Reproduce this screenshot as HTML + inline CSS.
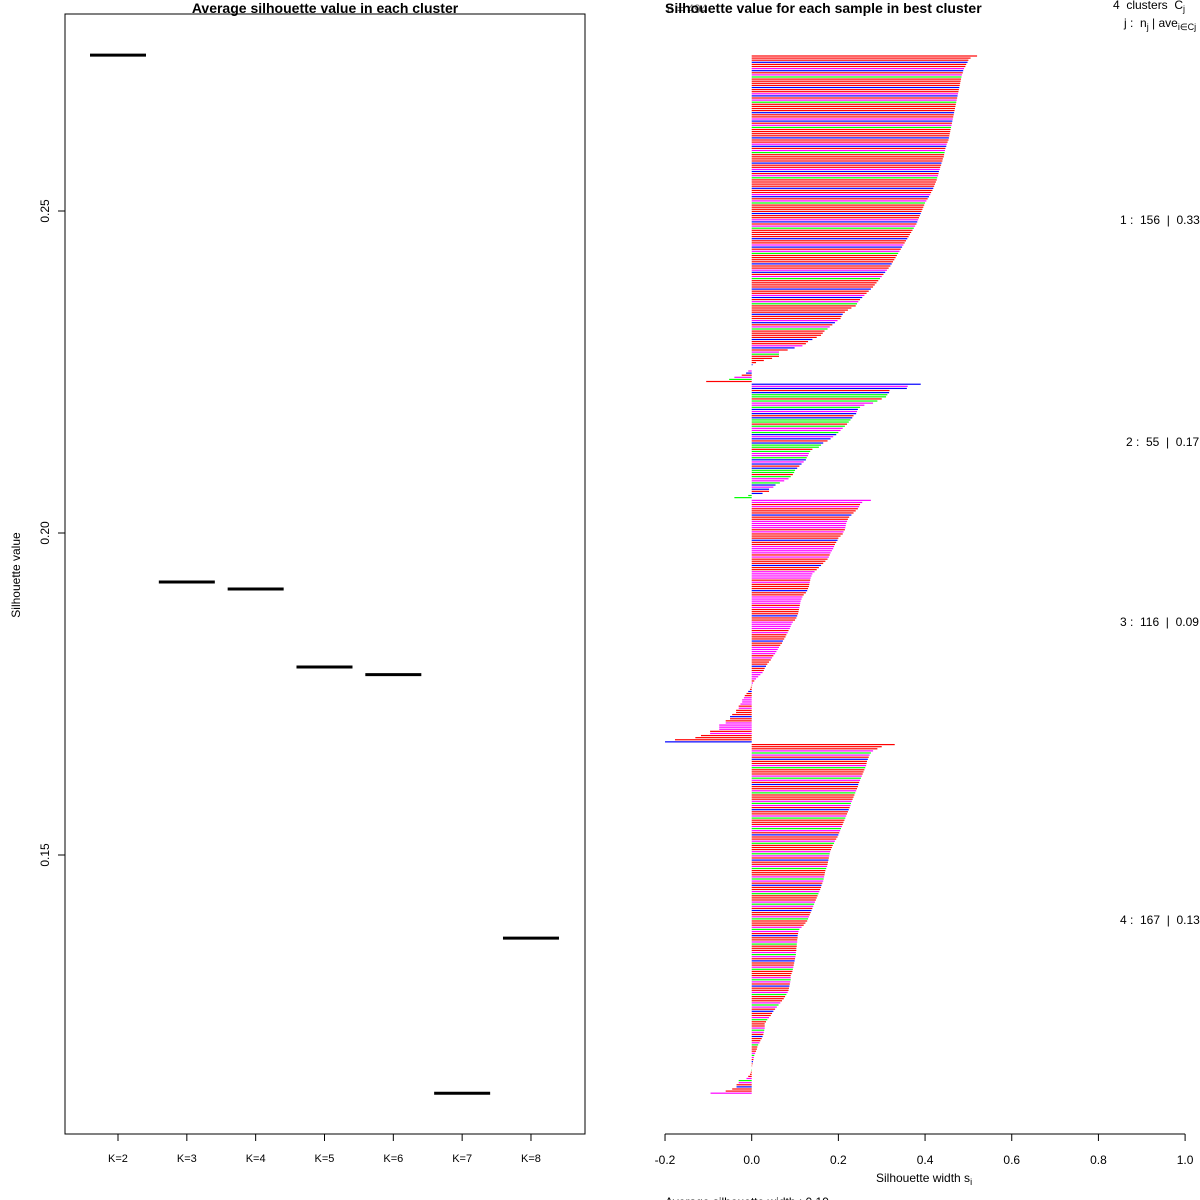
<!DOCTYPE html>
<html><head><meta charset="utf-8"><title>Silhouette</title>
<style>
html,body{margin:0;padding:0;background:#fff;}
svg{display:block;font-family:"Liberation Sans",Arial,sans-serif;}
.pre{white-space:pre;}
</style></head>
<body>
<svg id="c" width="1200" height="1200" viewBox="0 0 1200 1200">
  <g id="left">
    <text x="325" y="13" text-anchor="middle" font-size="14" font-weight="bold">Average silhouette value in each cluster</text>
    <rect x="65" y="14" width="520" height="1120" fill="none" stroke="#000" stroke-width="1"/>
    <text transform="translate(20,575) rotate(-90)" text-anchor="middle" font-size="12">Silhouette value</text>
  </g>
  <g id="right">
    <text x="665" y="13" font-size="14" font-weight="bold">Silhouette value for each sample in best cluster</text>
    <text x="667" y="13" font-size="12" fill="#000" opacity="0.6">n = 494</text>
    <text x="1113" y="9" font-size="12" class="pre">4  clusters  C<tspan font-size="9" dy="3">j</tspan></text>
    <text x="1124" y="27" font-size="12" class="pre">j :  n<tspan font-size="9" dy="3">j</tspan><tspan dy="-3"> | ave</tspan><tspan font-size="9" dy="3">i∈Cj</tspan><tspan dy="-3">  s</tspan><tspan font-size="9" dy="3">i</tspan></text>
    <text x="876" y="1182" font-size="12">Silhouette width s<tspan font-size="9" dy="3">i</tspan></text>
    <text x="665" y="1206" font-size="12">Average silhouette width :  0.19</text>
  </g>
</svg>
<script>
// ---- Left chart data ----
const kLabels = ["K=2","K=3","K=4","K=5","K=6","K=7","K=8"];
const avgSil = [0.2742,0.1924,0.1913,0.1792,0.1780,0.1130,0.1371];
const yTicks = [0.15,0.20,0.25];
const yTickLabels = ["0.15","0.20","0.25"];

// ---- Right chart data ----
const clusterSizes = [156,55,116,167];
const clusterAvg = ["0.33","0.17","0.09","0.13"];
const sil1 = [0.52,0.505,0.50,0.498,0.495,0.493,0.49,0.488,0.487,0.485,0.484,
0.483,0.482,0.481,0.480,0.479,0.478,0.477,0.476,0.475,0.474,
0.473,0.472,0.471,0.470,0.469,0.468,0.467,0.466,0.465,0.464,
0.463,0.462,0.461,0.460,0.459,0.458,0.457,0.456,0.455,0.454,
0.452,0.450,0.449,0.447,0.446,0.445,0.444,0.443,0.441,0.440,
0.438,0.437,0.435,0.434,0.432,0.431,0.430,0.428,0.427,0.425,
0.423,0.421,0.419,0.417,0.414,0.412,0.409,0.406,0.403,0.400,
0.398,0.396,0.394,0.392,0.390,0.388,0.386,0.384,0.382,0.380,
0.377,0.374,0.371,0.368,0.365,0.362,0.359,0.356,0.353,0.350,
0.347,0.344,0.341,0.338,0.335,0.332,0.329,0.326,0.323,0.320,
0.316,0.312,0.308,0.304,0.300,0.296,0.292,0.288,0.284,0.280,
0.275,0.270,0.265,0.260,0.255,0.250,0.246,0.243,0.240,0.230,
0.222,0.215,0.210,0.207,0.205,0.198,0.192,0.186,0.180,0.175,
0.168,0.164,0.160,0.150,0.140,0.130,0.125,0.117,0.099,0.083,
0.063,0.063,0.063,0.047,0.028,0.010,0.002,0.000,0.000,
-0.008,-0.013,-0.023,-0.040,-0.052,-0.105];
const sil2 = [0.39,0.36,0.358,0.318,0.317,0.313,0.31,0.30,0.29,0.28,
0.26,0.25,0.245,0.243,0.241,0.235,0.232,0.228,0.224,0.22,
0.215,0.21,0.205,0.20,0.195,0.188,0.182,0.175,0.165,0.16,
0.155,0.14,0.135,0.132,0.13,0.127,0.125,0.12,0.115,0.11,
0.105,0.10,0.098,0.095,0.09,0.085,0.075,0.065,0.055,0.05,
0.04,0.04,0.025,-0.008,-0.04];
const sil3 = [0.275,0.255,0.25,0.248,0.245,0.24,0.235,0.23,0.225,0.222,
0.22,0.218,0.217,0.216,0.215,0.212,0.21,0.205,0.2,0.198,
0.195,0.192,0.19,0.188,0.185,0.182,0.18,0.178,0.175,0.17,
0.165,0.16,0.155,0.15,0.145,0.14,0.138,0.136,0.135,0.134,
0.133,0.132,0.13,0.128,0.125,0.12,0.117,0.115,0.113,0.112,
0.111,0.11,0.109,0.108,0.107,0.105,0.103,0.1,0.095,0.092,
0.09,0.088,0.085,0.083,0.08,0.078,0.075,0.072,0.07,0.066,
0.063,0.06,0.057,0.054,0.05,0.047,0.044,0.04,0.036,0.033,
0.03,0.028,0.025,0.02,0.015,0.01,0.006,0.003,0.001,-0.002,-0.004,
-0.008,-0.012,-0.016,-0.018,-0.022,-0.022,-0.026,-0.03,-0.03,-0.036,
-0.036,-0.045,-0.05,-0.05,-0.06,-0.06,-0.075,-0.075,-0.075,-0.096,
-0.096,-0.117,-0.13,-0.177,-0.2];
const sil4 = [0.33,0.30,0.29,0.28,0.275,0.272,0.27,0.268,0.266,0.265,
0.264,0.262,0.26,0.258,0.256,0.254,0.252,0.25,0.248,0.246,
0.245,0.243,0.241,0.239,0.237,0.235,0.233,0.231,0.229,0.228,
0.226,0.224,0.222,0.22,0.218,0.216,0.214,0.212,0.21,0.208,
0.206,0.204,0.202,0.2,0.198,0.195,0.192,0.19,0.187,0.185,
0.183,0.181,0.18,0.179,0.178,0.177,0.176,0.175,0.174,0.172,
0.17,0.169,0.168,0.167,0.166,0.165,0.163,0.161,0.16,0.158,
0.156,0.154,0.152,0.15,0.148,0.146,0.144,0.142,0.14,0.138,
0.136,0.134,0.132,0.13,0.128,0.124,0.12,0.115,0.11,0.108,
0.107,0.106,0.106,0.105,0.105,0.104,0.104,0.103,0.103,0.102,
0.102,0.101,0.1,0.099,0.098,0.097,0.096,0.095,0.094,0.092,
0.09,0.09,0.09,0.089,0.088,0.087,0.086,0.085,0.083,0.08,
0.077,0.074,0.07,0.066,0.062,0.058,0.054,0.05,0.047,0.044,
0.04,0.036,0.033,0.03,0.03,0.03,0.029,0.028,0.027,0.025,
0.023,0.02,0.018,0.015,0.013,0.012,0.01,0.008,0.006,0.005,
0.004,0.003,0.002,0.001,0,-0.001,-0.002,-0.004,-0.008,-0.012,
-0.03,-0.03,-0.035,-0.035,-0.045,-0.06,-0.095];
const colorCodes = "rrrbgrrrrrmbmrrmmbrbbbbgrrrrrmrbrmrrrrgmgmmgrgbbmbgmrrgmrmggrbmmrmmbbrgrrmgrmrrbgmmr";
const xTicks = [-0.2,0,0.2,0.4,0.6,0.8,1.0];
const xTickLabels = ["-0.2","0.0","0.2","0.4","0.6","0.8","1.0"];

const NS="http://www.w3.org/2000/svg";
const L=document.getElementById('left'), R=document.getElementById('right');
function mk(tag,attrs,parent){const e=document.createElementNS(NS,tag);for(const k in attrs)e.setAttribute(k,attrs[k]);parent.appendChild(e);return e;}

// left axes
const ly=v=>533-(v-0.20)/0.05*322;
const lx=i=>118+i*68.83;
yTicks.forEach((t,i)=>{
  const tk=mk('line',{x1:58,x2:65,y1:ly(t),y2:ly(t),stroke:'#000'},L);
  
  
  const tl=mk('text',{transform:`translate(49,${ly(t)}) rotate(-90)`,'text-anchor':'middle','font-size':12},L);
  tl.textContent=yTickLabels[i];
  
  
});
kLabels.forEach((k,i)=>{
  const tk=mk('line',{x1:lx(i),x2:lx(i),y1:1134,y2:1141,stroke:'#000'},L);
  
  
  const tl=mk('text',{x:lx(i),y:1162,'text-anchor':'middle','font-size':11},L);
  tl.textContent=k;
  
  
  const seg=mk('line',{x1:lx(i)-28,x2:lx(i)+28,y1:ly(avgSil[i]),y2:ly(avgSil[i]),stroke:'#000','stroke-width':3},L);
  
  
});

// right chart
const rx=v=>751.7+v*433.4;
const pitch=2.1;
const cmap={r:'#ff0000',m:'#ff00ff',b:'#0000ff',g:'#00ff00',k:'#000'};
const sils=[sil1,sil2,sil3,sil4];
let y=56, n=0;
sils.forEach((arr,c)=>{
  const g=mk('g',{},R);
  
  
  const y0=y;
  arr.forEach(v=>{
    const col=cmap[colorCodes[(n*7+c*3)%colorCodes.length]];
    const x0=Math.min(rx(0),rx(v)), w=Math.abs(rx(v)-rx(0));
    const b=mk('rect',{x:x0,y:y-0.6,width:Math.max(w,0.01),height:1.2,fill:col},g);
    
    
    y+=pitch; n++;
  });
  const lab=mk('text',{x:c===1?1126:1120,y:(y0+y)/2+4,'font-size':12,'class':'pre'},R);
  lab.textContent=(c+1)+" :  "+clusterSizes[c]+"  |  "+clusterAvg[c];
  
  
  y+=pitch*0.3;
});
const ax=mk('line',{x1:rx(-0.2),x2:rx(1.0),y1:1134,y2:1134,stroke:'#000'},R);


xTicks.forEach((t,i)=>{
  const tk=mk('line',{x1:rx(t),x2:rx(t),y1:1134,y2:1141,stroke:'#000'},R);
  
  
  const tl=mk('text',{x:rx(t),y:1164,'text-anchor':'middle','font-size':12},R);
  tl.textContent=xTickLabels[i];
  
  
});
</script>
</body></html>
